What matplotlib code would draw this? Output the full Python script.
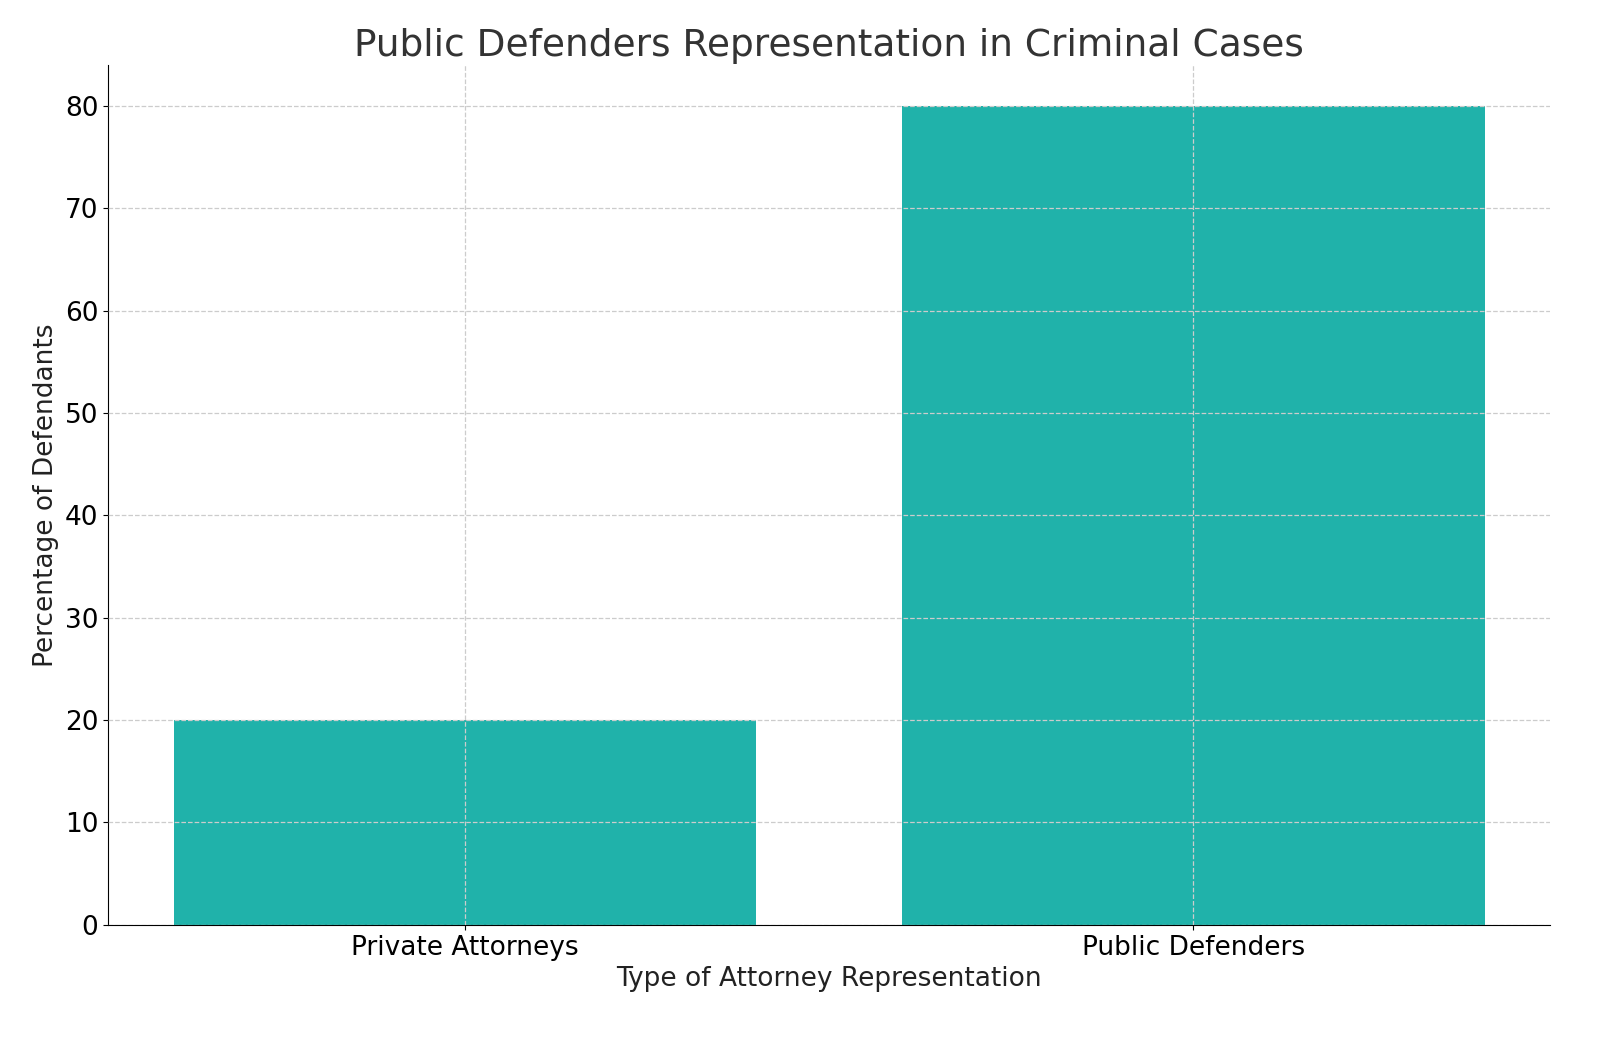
import matplotlib
matplotlib.use("Agg")
import matplotlib.pyplot as plt

# chart data
categories = ["Private Attorneys", "Public Defenders"]
percentages = [20, 80]

fig = plt.figure(figsize=(16, 10.45), dpi=100)
ax = fig.add_axes([0.0675, 0.115, 0.9015, 0.823])

ax.bar(categories, percentages, color="lightseagreen", width=0.8)

ax.set_title("Public Defenders Representation in Criminal Cases", fontsize=27, color="#333333")
ax.set_xlabel("Type of Attorney Representation", fontsize=19, color="#222222")
ax.set_ylabel("Percentage of Defendants", fontsize=19, color="#222222")
ax.tick_params(labelsize=19)
ax.set_ylim(0, 84)

ax.grid(True, linestyle="--", color="#cccccc", linewidth=0.9)
ax.set_axisbelow(False)
for s in ["top", "right"]:
    ax.spines[s].set_visible(False)

fig.savefig("out.png", dpi=100)
